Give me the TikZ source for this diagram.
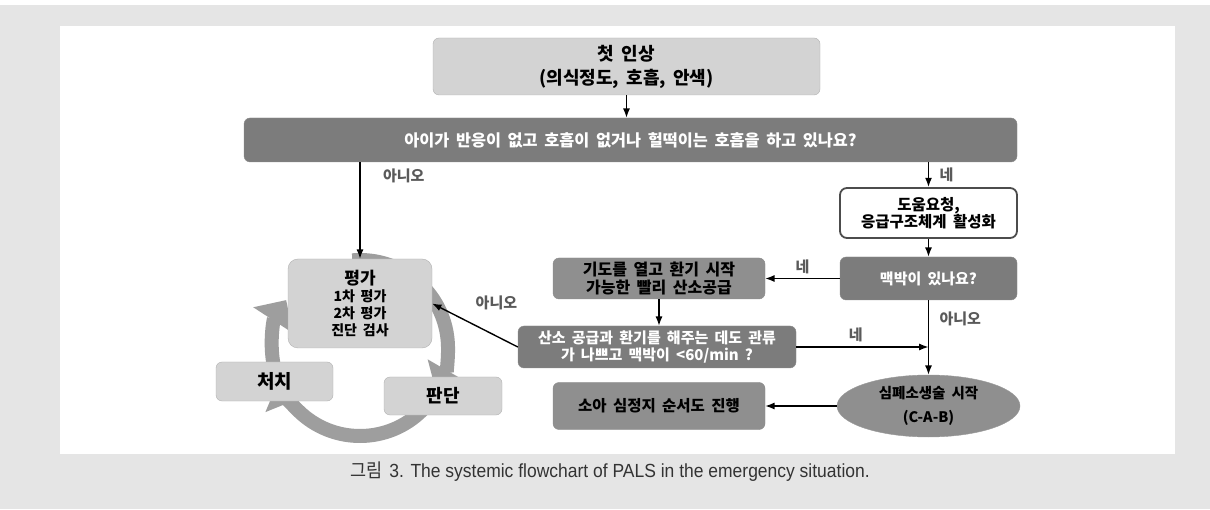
\documentclass[tikz,border=0pt]{standalone}
\usepackage{fontspec}
\usepackage{graphicx}
\setmainfont{Noto Sans CJK KR}[WordSpace=1.8]
\newfontfamily\capfont{Liberation Sans}
\usetikzlibrary{arrows.meta,positioning,shapes.geometric}
\definecolor{pagegray}{HTML}{E5E5E5}
\definecolor{boxlight}{HTML}{D3D3D3}
\definecolor{boxmid}{HTML}{8F8F8F}
\definecolor{boxdark}{HTML}{7C7C7C}
\definecolor{ringgray}{HTML}{9E9E9E}
\definecolor{lblgray}{HTML}{5A5A5A}
\newcommand{\fsize}[2]{\fontsize{#1}{#2}\selectfont\bfseries}

\begin{document}
\begin{tikzpicture}[x=1pt,y=1pt,>=Latex,
  lightbox/.style={draw=black!30,fill=boxlight,rounded corners=6pt,align=center,inner sep=2pt},
  darkbox/.style={draw=black!45,fill=boxdark,text=white,rounded corners=6pt,align=center,inner sep=2pt},
  midbox/.style={draw=black!45,fill=boxmid,text=black,rounded corners=6pt,align=center,inner sep=2pt},
  whitebox/.style={draw=black!70,line width=1.8pt,fill=white,rounded corners=7pt,align=center,inner sep=2pt},
  lbl/.style={text=lblgray,font=\fontsize{15}{18}\selectfont\bfseries},
  conn/.style={->,line width=1.4pt},
  ring/.style={draw=ringgray,line width=14pt,-{Triangle[width=46pt,length=24pt]}}]

  % page and white panel
  \fill[pagegray] (0,0) rectangle (1210,509);
  \fill[white] (0,504) rectangle (1210,509);
  \fill[white] (60,55) rectangle (1175,483);

  \node[lightbox,minimum width=387pt,minimum height=57pt,font=\fsize{18}{24}] (first) at (626.5,442.5) {첫 인상\\(의식정도, 호흡, 안색)};
  \node[darkbox,minimum width=773pt,minimum height=44pt,font=\fsize{16.3}{19}] (question) at (630.5,369) {아이가 반응이 없고 호흡이 없거나 헐떡이는 호흡을 하고 있나요?};
  \node[whitebox,minimum width=177pt,minimum height=50pt,font=\fsize{15.5}{17}] (help) at (928.5,296) {도움요청,\\응급구조체계 활성화};
  \node[darkbox,minimum width=177pt,minimum height=43pt,font=\fsize{15}{18}] (pulse) at (928.5,230.5) {맥박이 있나요?};
  \node[midbox,minimum width=212pt,minimum height=41pt,font=\fsize{16}{18}] (airway) at (659,230.5) {기도를 열고 환기 시작\\가능한 빨리 산소공급};
  \node[darkbox,minimum width=278pt,minimum height=42pt,font=\fsize{15}{17}] (oxygen) at (657,162) {산소 공급과 환기를 해주는 데도 관류\\가 나쁘고 맥박이 <60/min ?};
  \node[ellipse,draw=black!40,fill=boxmid,minimum width=183pt,minimum height=62pt,inner sep=1pt,align=center,font=\fsize{14.5}{24}] (cpr) at (928.5,103) {심폐소생술 시작\\(C-A-B)};
  \node[midbox,minimum width=212pt,minimum height=47pt,font=\fsize{15.5}{18}] (child) at (659,103) {소아 심정지 순서도 진행};

  % cycle of assessment
  \draw[ring] (360,161) ++(95:88) arc[start angle=95,end angle=-30,radius=88];
  \draw[ring] (360,161) ++(-42:88) arc[start angle=-42,end angle=-158,radius=88];
  \draw[ring] (360,161) ++(192:88) arc[start angle=192,end angle=147,radius=88];

  \node[lightbox,rounded corners=10pt,minimum width=144pt,minimum height=89pt,font=\fsize{14}{17}] (assess) at (360,205.5) {{\fontsize{17}{20}\selectfont 평가}\\1차 평가\\2차 평가\\진단 검사};
  \node[lightbox,minimum width=117pt,minimum height=39pt,font=\fsize{19}{22}] (treat) at (274.5,127.5) {처치};
  \node[lightbox,minimum width=118pt,minimum height=38pt,font=\fsize{18}{22}] (judge) at (443,113) {판단};

  \draw[conn] (first.south) -- (first.south |- question.north);
  \draw[conn] (question.south -| assess.north) -- (assess.north)
    node[lbl,pos=0.14,right=19pt] {아니오};
  \draw[conn] (question.south -| help.north) -- (help.north)
    node[lbl,midway,right=7pt] {네};
  \draw[conn] (help.south) -- (pulse.north);
  \draw[conn] (pulse.west) -- (airway.east) node[lbl,midway,above=1pt] {네};
  \draw[conn] (airway.south) -- (airway.south |- oxygen.north);
  \draw[conn] (oxygen.west) -- (assess.east) node[lbl,pos=0.25,above=22pt] {아니오};
  \draw[conn] (oxygen.east) -- (oxygen.east -| pulse.south) node[lbl,pos=0.45,above=1pt] {네};
  \draw[conn] (pulse.south) -- (cpr.north) node[lbl,pos=0.25,right=7pt] {아니오};
  \draw[conn] (cpr.west) -- (child.east);

  \node[text=black!80,font=\fontsize{19}{21}\selectfont] (caption) at (610,37)
    {\scalebox{0.92}[1]{그림 {\capfont 3. The systemic flowchart of PALS in the emergency situation.}}};
\end{tikzpicture}
\end{document}
